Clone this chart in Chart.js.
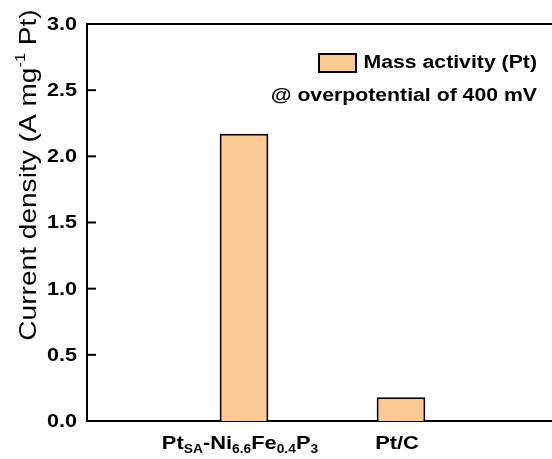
<!DOCTYPE html>
<html>
<head>
<meta charset="utf-8">
<script src="https://cdn.jsdelivr.net/npm/chart.js@4/dist/chart.umd.min.js"></script>
<style>
    html, body { margin: 0; padding: 0; background: #fff; overflow: hidden; }
    #wrap { width: 552px; height: 459px; overflow: hidden; }
    #wrap div { width: 572px; height: 459px; }
</style>
</head>
<body>
<div id="wrap"><div><canvas id="graph"></canvas></div></div>
<script>
// samples on the x axis, each label split into [text, isSubscript] pieces
const categories = ['Pt_SA-Ni6.6Fe0.4P3', 'Pt/C'];
const categoryParts = [
    [['Pt', false], ['SA', true], ['-Ni', false], ['6.6', true], ['Fe', false], ['0.4', true], ['P', false], ['3', true]],
    [['Pt/C', false]]
];
const massActivity = [2.17, 0.18];   // A mg-1 Pt
const yTicks = [0, 0.5, 1.0, 1.5, 2.0, 2.5, 3.0];
const seriesLabel = 'Mass activity (Pt)';
const noteText = '@ overpotential of 400 mV';

const barColor = '#fcc894';
const font = '"Liberation Sans", Arial, sans-serif';
const wide = 1.18;   // text is drawn a bit wider than the font's normal width

// empty slots on both ends so the bars sit at the 1st and 2nd positions
const labels = ['', ...categories, ''];
const values = [null, ...massActivity, null];

const graph = document.getElementById('graph').getContext('2d');

// draws a run of [text, small] pieces, stretched horizontally by sx
function drawRun(ctx, parts, x, y, big, small, align, sx, shift) {
    let total = 0;
    parts.forEach(([t, s]) => {
        ctx.font = s ? small : big;
        total += ctx.measureText(t).width * sx;
    });
    let px = x;
    if (align === 'center') px -= total / 2;
    if (align === 'right') px -= total;
    parts.forEach(([t, s]) => {
        ctx.font = s ? small : big;
        ctx.save();
        ctx.translate(px, s ? y + shift : y);
        ctx.scale(sx, 1);
        ctx.textAlign = 'left';
        ctx.fillText(t, 0, 0);
        ctx.restore();
        px += ctx.measureText(t).width * sx;
    });
}

const decorations = {
    id: 'decorations',
    afterDraw(chart) {
        const ctx = chart.ctx;
        const area = chart.chartArea;
        const x = chart.scales.x;
        const y = chart.scales.y;
        ctx.save();

        // top frame line
        ctx.strokeStyle = '#000';
        ctx.lineWidth = 2;
        ctx.beginPath();
        ctx.moveTo(area.left - 1, area.top);
        ctx.lineTo(area.right + 20, area.top);
        ctx.stroke();

        // inward major ticks and their labels
        ctx.fillStyle = '#000';
        ctx.textBaseline = 'middle';
        yTicks.forEach(v => {
            const py = y.getPixelForValue(v);
            ctx.beginPath();
            ctx.moveTo(area.left, py);
            ctx.lineTo(area.left + 9, py);
            ctx.stroke();
            drawRun(ctx, [[v.toFixed(1), false]], area.left - 10, py + 1,
                'bold 18px ' + font, '', 'right', 1.2, 0);
        });

        // x labels with subscripts
        ctx.textBaseline = 'alphabetic';
        categoryParts.forEach((parts, i) => {
            drawRun(ctx, parts, x.getPixelForValue(i + 1) - 4, 449,
                'bold 19px ' + font, 'bold 12px ' + font, 'center', 1.15, 4);
        });

        // y axis title with superscript
        ctx.translate(28, 175);
        ctx.rotate(-Math.PI / 2);
        ctx.textBaseline = 'middle';
        drawRun(ctx, [['Current density (A mg', false], ['-1', true], [' Pt)', false]], 0, 1,
            '24px ' + font, '14px ' + font, 'center', 1.17, -8);
        ctx.restore();

        // legend box and note
        ctx.save();
        ctx.fillStyle = barColor;
        ctx.fillRect(319, 54, 37, 18);
        ctx.strokeStyle = '#000';
        ctx.lineWidth = 2;
        ctx.strokeRect(319, 54, 37, 18);
        ctx.fillStyle = '#000';
        ctx.textBaseline = 'middle';
        drawRun(ctx, [[seriesLabel, false]], 537, 63, 'bold 18px ' + font, '', 'right', wide, 0);
        drawRun(ctx, [[noteText, false]], 537, 96, 'bold 18px ' + font, '', 'right', wide, 0);
        ctx.restore();
    }
};

new Chart(graph, {
    type: 'bar',
    data: {
        labels: labels,
        datasets: [{
            label: seriesLabel,
            data: values,
            backgroundColor: barColor,
            borderColor: '#000',
            borderWidth: 2,
            borderSkipped: 'bottom',
            categoryPercentage: 1,
            barPercentage: 0.31
        }]
    },
    options: {
        responsive: true,
        maintainAspectRatio: false,
        animation: false,
        layout: {
            padding: { top: 24, right: 14, bottom: 0, left: 0 }
        },
        plugins: {
            legend: { display: false },
            tooltip: { enabled: false }
        },
        scales: {
            x: {
                offset: false,
                grid: { display: false, drawTicks: false },
                border: { display: true, color: '#000', width: 2 },
                ticks: { display: false },
                afterFit(scale) { scale.height = 38; }
            },
            y: {
                min: 0,
                max: 3,
                afterBuildTicks(scale) {
                    scale.ticks = yTicks.map(v => ({ value: v }));
                },
                grid: { display: false, drawTicks: false },
                border: { display: true, color: '#000', width: 2 },
                ticks: { display: false },
                afterFit(scale) { scale.width = 87; }
            }
        }
    },
    plugins: [decorations]
});
</script>
</body>
</html>
